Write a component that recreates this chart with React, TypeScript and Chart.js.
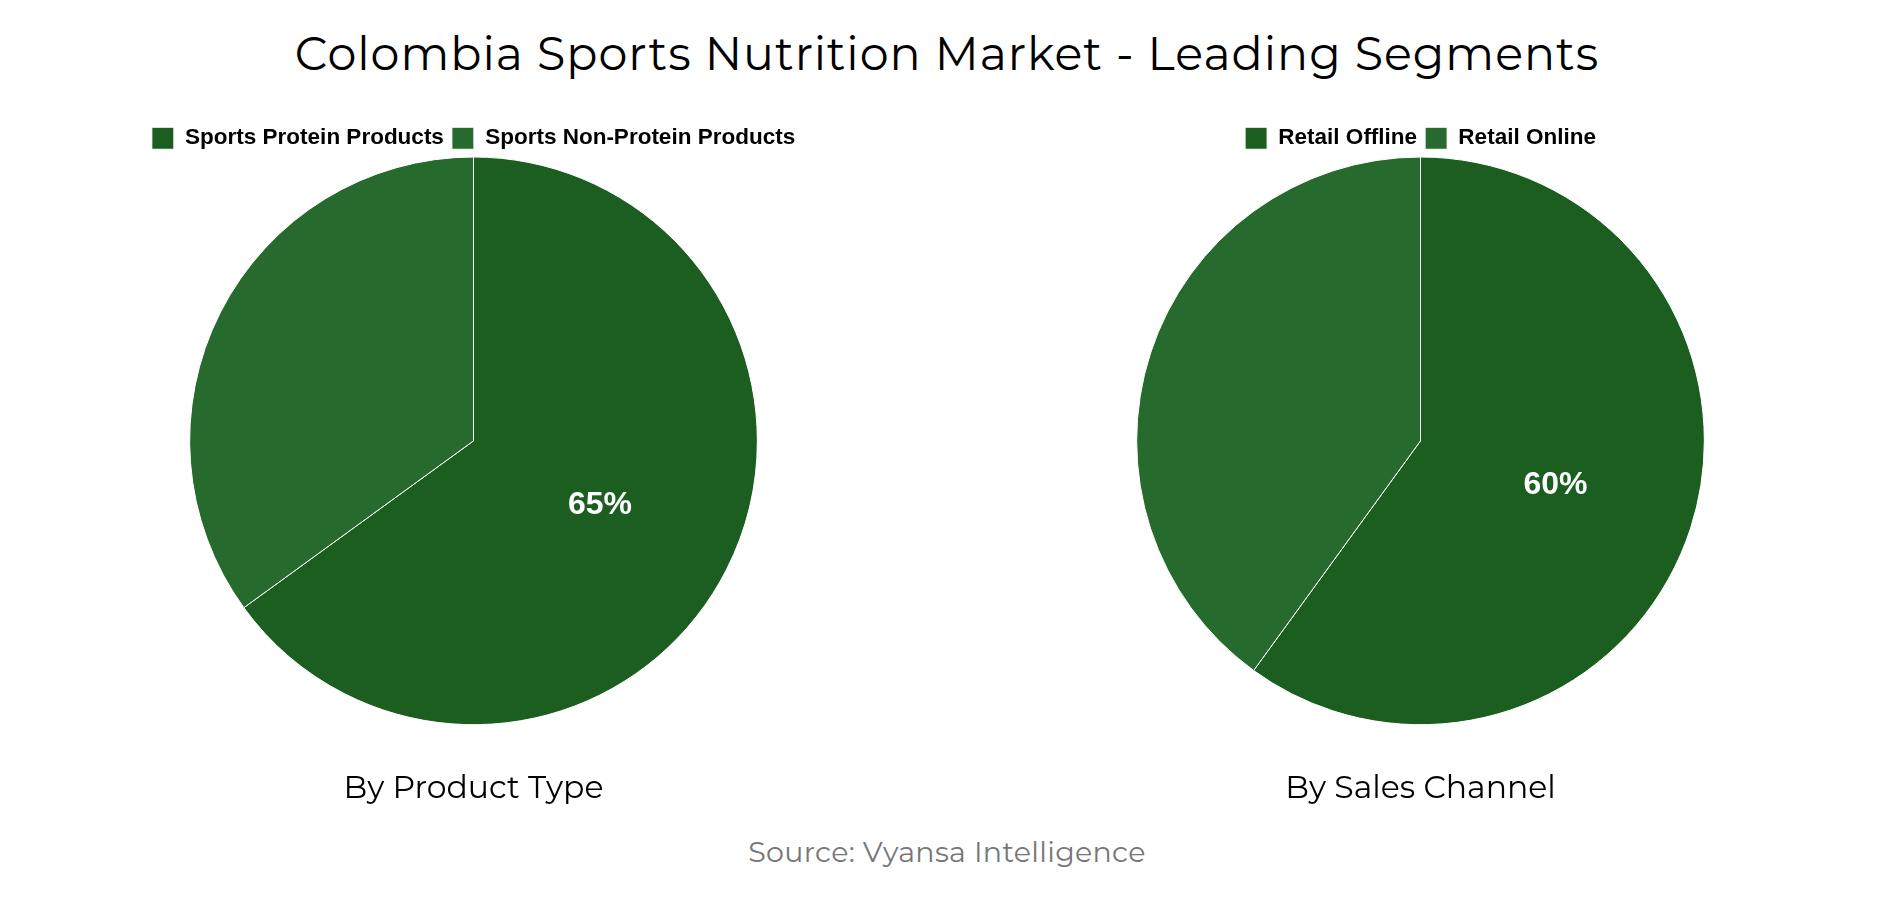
import React, { useEffect, useRef } from 'react';
import { Chart, registerables } from 'chart.js';

Chart.register(...registerables);

const productLabels = ['Sports Protein Products', 'Sports Non-Protein Products'];
const productValues = [65, 35];

const channelLabels = ['Retail Offline', 'Retail Online'];
const channelValues = [60, 40];

const sliceColors = ['#1B5E20', '#266A2D'];

const headFont = 'Montserrat, Inter, sans-serif';

// draws the share of the first slice in the middle of it
const sliceLabel = {
  id: 'sliceLabel',
  afterDatasetsDraw(chart: any) {
    const meta = chart.getDatasetMeta(0);
    const arc = meta.data[0];
    if (!arc) return;
    const value = chart.data.datasets[0].data[0];
    const pos = arc.tooltipPosition();
    const ctx = chart.ctx;
    ctx.save();
    ctx.fillStyle = '#ffffff';
    ctx.font = 'bold 32px "Liberation Sans", Arial, sans-serif';
    ctx.textAlign = 'center';
    ctx.textBaseline = 'middle';
    ctx.fillText(value + '%', pos.x, pos.y);
    ctx.restore();
  },
};

// legend sits closer to the pie than chart.js leaves by default
const tightLegend = {
  id: 'tightLegend',
  beforeInit(chart: any) {
    const legend = chart.legend;
    if (!legend) return;
    const fit = legend.fit;
    legend.fit = function () {
      fit.call(this);
      this.height -= 3;
    };
  },
};

type PieProps = {
  labels: string[];
  values: number[];
  caption: string;
  left: number;
};

const SegmentPie: React.FC<PieProps> = ({ labels, values, caption, left }) => {
  const canvasRef = useRef<HTMLCanvasElement>(null);

  useEffect(() => {
    if (!canvasRef.current) return;
    const chart = new Chart(canvasRef.current, {
      type: 'pie',
      data: {
        labels,
        datasets: [
          {
            data: values,
            backgroundColor: sliceColors,
            borderColor: '#ffffff',
            borderWidth: 1,
          },
        ],
      },
      options: {
        responsive: true,
        maintainAspectRatio: false,
        animation: false,
        plugins: {
          legend: {
            position: 'top',
            labels: {
              boxWidth: 22,
              boxHeight: 22,
              padding: 8,
              color: '#000000',
              font: { family: '"Liberation Sans", Arial, sans-serif', size: 22.5, weight: 'bold' },
            },
          },
          title: {
            display: true,
            position: 'bottom',
            text: caption,
            color: '#000000',
            padding: { top: 45, bottom: 22 },
            font: { family: headFont, size: 31.5, weight: 'normal', lineHeight: 1.2 },
          },
          tooltip: { enabled: false },
        },
      },
      plugins: [tightLegend, sliceLabel],
    });
    return () => {
      chart.destroy();
    };
  }, [labels, values, caption]);

  return (
    <div style={{ position: 'absolute', left, top: 119, width: 947, height: 711 }}>
      <canvas ref={canvasRef} />
    </div>
  );
};

const App: React.FC = () => {
  return (
    <div style={{ position: 'absolute', left: 0, top: 0, width: 1894, height: 900, background: '#ffffff' }}>
      <div
        style={{
          position: 'absolute',
          left: 0,
          top: 28,
          width: 1894,
          textAlign: 'center',
          fontFamily: headFont,
          fontSize: 46,
          letterSpacing: '1px',
          lineHeight: '52px',
          color: '#000000',
        }}
      >
        Colombia Sports Nutrition Market - Leading Segments
      </div>
      <SegmentPie labels={productLabels} values={productValues} caption="By Product Type" left={0} />
      <SegmentPie labels={channelLabels} values={channelValues} caption="By Sales Channel" left={947} />
      <div
        style={{
          position: 'absolute',
          left: 0,
          top: 835,
          width: 1894,
          textAlign: 'center',
          fontFamily: headFont,
          fontSize: 28.5,
          letterSpacing: '0.3px',
          lineHeight: '34px',
          color: '#777777',
        }}
      >
        Source: Vyansa Intelligence
      </div>
    </div>
  );
};

export default App;
